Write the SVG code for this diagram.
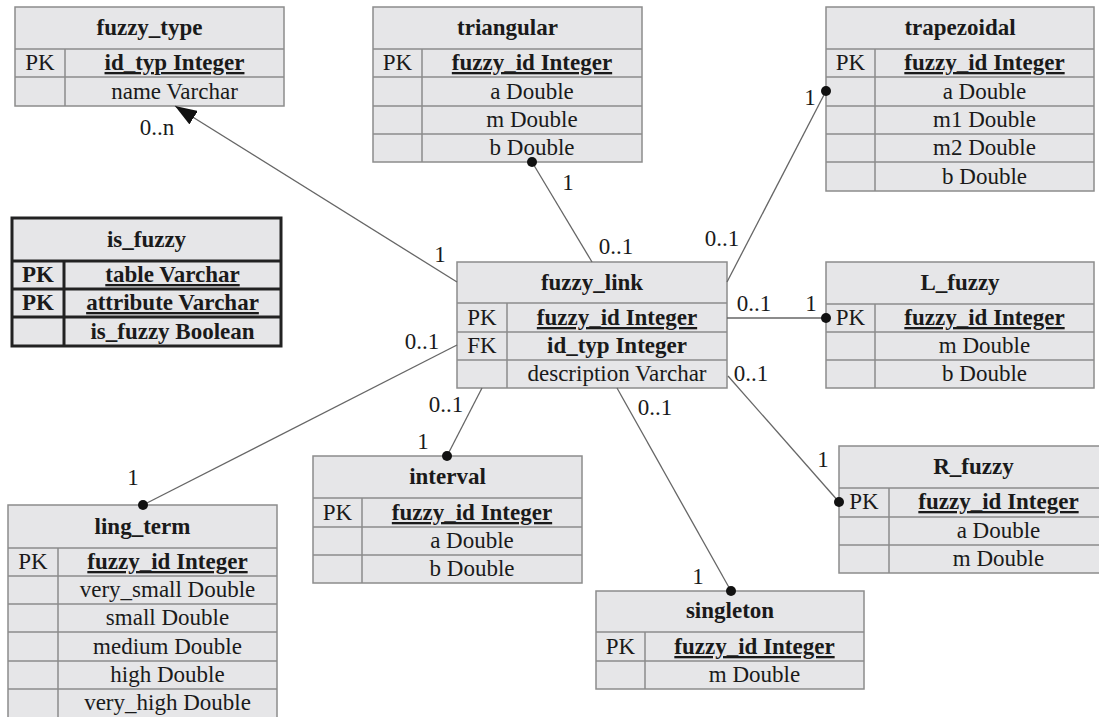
<svg xmlns="http://www.w3.org/2000/svg" width="1099" height="717" viewBox="0 0 1099 717">
<style>
.box{fill:#e6e6e8;stroke:#8c8c8c;stroke-width:1.5}
.thick{fill:#e6e6e8;stroke:#222;stroke-width:3}
.sep{stroke:#8c8c8c;stroke-width:1.5;fill:none}
.sepk{stroke:#222;stroke-width:3;fill:none}
text{font-family:"Liberation Serif","Times New Roman",serif;font-size:23px;fill:#1a1a1a;text-anchor:middle}
.b{font-weight:bold}
.u{text-decoration:underline}
.conn line{stroke:#666;stroke-width:1.3}
.dot{fill:#111}
</style>
<defs>
<marker id="arr" viewBox="0 0 22 16" refX="22" refY="8" markerWidth="22" markerHeight="16" markerUnits="userSpaceOnUse" orient="auto">
<path d="M0,0 L22,8 L0,16 z" fill="#111"/>
</marker>
</defs>

<g id="fuzzy_type">
<rect class="box" x="15" y="7" width="269" height="99"/>
<path class="sep" d="M15,49H284M15,77H284M65,49V106"/>
<text class="b" x="149.5" y="35">fuzzy_type</text>
<text x="40" y="70">PK</text>
<text class="b u" x="174.5" y="70">id_typ Integer</text>
<text x="174.5" y="99">name Varchar</text>
</g>

<g id="triangular">
<rect class="box" x="373" y="7" width="269" height="155"/>
<path class="sep" d="M373,49H642M373,77H642M373,106H642M373,134H642M422,49V162"/>
<text class="b" x="507.5" y="35">triangular</text>
<text x="397.5" y="70">PK</text>
<text class="b u" x="532" y="70">fuzzy_id Integer</text>
<text x="532" y="99">a Double</text>
<text x="532" y="127">m Double</text>
<text x="532" y="155">b Double</text>
</g>

<g id="trapezoidal">
<rect class="box" x="826" y="7" width="268" height="184"/>
<path class="sep" d="M826,49H1094M826,77H1094M826,106H1094M826,134H1094M826,162H1094M875,49V191"/>
<text class="b" x="960" y="35">trapezoidal</text>
<text x="850.5" y="70">PK</text>
<text class="b u" x="984.5" y="70">fuzzy_id Integer</text>
<text x="984.5" y="99">a Double</text>
<text x="984.5" y="127">m1 Double</text>
<text x="984.5" y="155">m2 Double</text>
<text x="984.5" y="184">b Double</text>
</g>

<g id="is_fuzzy">
<rect class="thick" x="12" y="218" width="269" height="128"/>
<path class="sepk" d="M12,261H281M12,289H281M12,317H281M64,261V346"/>
<text class="b" x="146.5" y="247">is_fuzzy</text>
<text class="b" x="38" y="282">PK</text>
<text class="b u" x="172.5" y="282">table Varchar</text>
<text class="b" x="38" y="310">PK</text>
<text class="b u" x="172.5" y="310">attribute Varchar</text>
<text class="b" x="172.5" y="339">is_fuzzy Boolean</text>
</g>

<g id="fuzzy_link">
<rect class="box" x="457" y="262" width="270" height="126"/>
<path class="sep" d="M457,303H727M457,332H727M457,360H727M507,303V388"/>
<text class="b" x="592" y="290">fuzzy_link</text>
<text x="482" y="325">PK</text>
<text class="b u" x="617" y="325">fuzzy_id Integer</text>
<text x="482" y="353">FK</text>
<text class="b" x="617" y="353">id_typ Integer</text>
<text x="617" y="381">description Varchar</text>
</g>

<g id="L_fuzzy">
<rect class="box" x="826" y="262" width="268" height="126"/>
<path class="sep" d="M826,304H1094M826,332H1094M826,360H1094M875,304V388"/>
<text class="b" x="960" y="290">L_fuzzy</text>
<text x="850.5" y="325">PK</text>
<text class="b u" x="984.5" y="325">fuzzy_id Integer</text>
<text x="984.5" y="353">m Double</text>
<text x="984.5" y="381">b Double</text>
</g>

<g id="R_fuzzy">
<rect class="box" x="839" y="446" width="269" height="127"/>
<path class="sep" d="M839,488H1108M839,517H1108M839,545H1108M889,488V573"/>
<text class="b" x="973.5" y="474">R_fuzzy</text>
<text x="864" y="509">PK</text>
<text class="b u" x="998.5" y="509">fuzzy_id Integer</text>
<text x="998.5" y="538">a Double</text>
<text x="998.5" y="566">m Double</text>
</g>

<g id="ling_term">
<rect class="box" x="8" y="505" width="269" height="214"/>
<path class="sep" d="M8,548H277M8,576H277M8,604H277M8,632H277M8,661H277M8,689H277M58,548V719"/>
<text class="b" x="142.5" y="534">ling_term</text>
<text x="33" y="569">PK</text>
<text class="b u" x="167.5" y="569">fuzzy_id Integer</text>
<text x="167.5" y="597">very_small Double</text>
<text x="167.5" y="625">small Double</text>
<text x="167.5" y="654">medium Double</text>
<text x="167.5" y="682">high Double</text>
<text x="167.5" y="710">very_high Double</text>
</g>

<g id="interval">
<rect class="box" x="313" y="456" width="269" height="127"/>
<path class="sep" d="M313,498H582M313,527H582M313,555H582M362,498V583"/>
<text class="b" x="447.5" y="484">interval</text>
<text x="337.5" y="520">PK</text>
<text class="b u" x="472" y="520">fuzzy_id Integer</text>
<text x="472" y="548">a Double</text>
<text x="472" y="576">b Double</text>
</g>

<g id="singleton">
<rect class="box" x="596" y="591" width="268" height="98"/>
<path class="sep" d="M596,632H864M596,661H864M645,632V689"/>
<text class="b" x="730" y="618">singleton</text>
<text x="620.5" y="654">PK</text>
<text class="b u" x="754.5" y="654">fuzzy_id Integer</text>
<text x="754.5" y="682">m Double</text>
</g>

<g id="connectors" class="conn">
<line x1="457" y1="282" x2="175" y2="106" marker-end="url(#arr)"/>
<line x1="592" y1="262" x2="532" y2="162"/>
<line x1="727" y1="282" x2="826" y2="91"/>
<line x1="727" y1="318" x2="826" y2="318"/>
<line x1="728" y1="376" x2="839" y2="502"/>
<line x1="457" y1="345" x2="143" y2="505"/>
<line x1="482" y1="388" x2="447" y2="456"/>
<line x1="617" y1="388" x2="731" y2="591"/>
<circle class="dot" cx="532" cy="162" r="5"/>
<circle class="dot" cx="826" cy="91" r="5"/>
<circle class="dot" cx="826" cy="318" r="5"/>
<circle class="dot" cx="839" cy="502" r="5"/>
<circle class="dot" cx="143" cy="505" r="5"/>
<circle class="dot" cx="447" cy="456" r="5"/>
<circle class="dot" cx="731" cy="591" r="5"/>
<text x="157" y="135">0..n</text>
<text x="440" y="262">1</text>
<text x="568" y="190">1</text>
<text x="616" y="254">0..1</text>
<text x="722" y="246">0..1</text>
<text x="810" y="105">1</text>
<text x="754" y="311">0..1</text>
<text x="811" y="311">1</text>
<text x="751" y="381">0..1</text>
<text x="823" y="467">1</text>
<text x="422" y="349">0..1</text>
<text x="133" y="485">1</text>
<text x="446" y="412">0..1</text>
<text x="423" y="449">1</text>
<text x="655" y="415">0..1</text>
<text x="698" y="584">1</text>
</g>
</svg>
